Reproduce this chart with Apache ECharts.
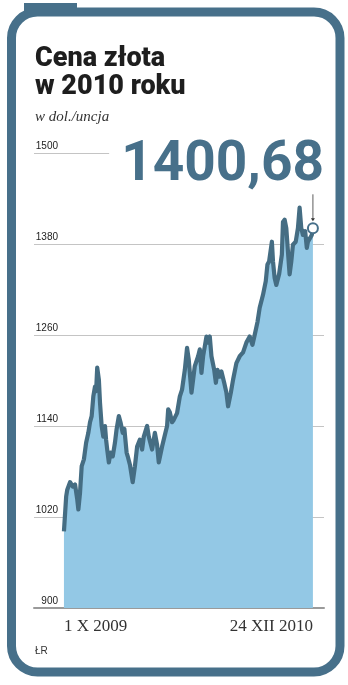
<!DOCTYPE html>
<html>
<head>
<meta charset="utf-8">
<script src="https://cdn.jsdelivr.net/npm/echarts@6/dist/echarts.min.js"></script>
<style>
  html, body { margin: 0; padding: 0; background: #fff; }
  #chart { width: 348px; height: 685px; }
</style>
</head>
<body>
<div id="chart"></div>
<script>
// dni od 1 X 2009
var days = [0, 4, 6, 11, 16, 20, 24, 26, 29, 32, 36, 40, 44, 47, 50, 53, 56, 58, 60, 63,
  65, 68, 71, 74, 76, 78, 81, 84, 88, 92, 95, 99, 102, 106, 109, 113, 115, 119, 124, 128,
  132, 137, 141, 144, 150, 153, 159, 164, 168, 171, 177, 182, 186, 188, 191, 195, 198, 204, 209, 213,
  218, 222, 225, 230, 236, 242, 245, 248, 251, 257, 260, 263, 266, 271, 274, 277, 281, 284, 289, 293,
  296, 301, 305, 311, 317, 323, 329, 335, 340, 344, 349, 353, 359, 364, 367, 370, 375, 377, 380, 383,
  388, 393, 395, 398, 401, 404, 407, 410, 413, 418, 422, 425, 428, 431, 435, 438, 440, 444, 447, 449];
var prices = [1001, 1047, 1056, 1066, 1060, 1063, 1043, 1030, 1052, 1087, 1096, 1118, 1131, 1145, 1153, 1179, 1192, 1186, 1217, 1201,
  1171, 1140, 1126, 1140, 1122, 1109, 1092, 1105, 1100, 1118, 1136, 1153, 1145, 1131, 1136, 1105, 1100, 1089, 1066, 1087,
  1113, 1122, 1109, 1126, 1140, 1126, 1109, 1131, 1115, 1092, 1113, 1128, 1140, 1162, 1158, 1145, 1148, 1157, 1179, 1188,
  1214, 1243, 1228, 1184, 1219, 1232, 1241, 1210, 1232, 1258, 1250, 1258, 1232, 1214, 1197, 1214, 1205, 1212, 1197, 1184,
  1166, 1184, 1201, 1223, 1232, 1237, 1250, 1258, 1247, 1260, 1277, 1296, 1313, 1331, 1353, 1357, 1383, 1357, 1335, 1326,
  1340, 1366, 1409, 1412, 1401, 1370, 1340, 1357, 1379, 1383, 1401, 1428, 1401, 1392, 1397, 1375, 1383, 1388, 1392, 1400.68];
var labelDays = [0, 449];
var dateLabels = ['1 X 2009', '24 XII 2010'];
var yTicks = [900, 1020, 1140, 1260, 1380, 1500];
var lastValue = '1400,68';

var frameColor = '#47708a';
var chart = echarts.init(document.getElementById('chart'), null, { renderer: 'canvas' });

var seriesData = days.map(function (d, i) { return [d, prices[i]]; });

var option = {
  animation: false,
  backgroundColor: '#fff',
  grid: { left: 34, right: 24, top: 153, bottom: 77, containLabel: false },
  xAxis: {
    type: 'value',
    min: -54,
    max: 469,
    axisLine: { show: true, lineStyle: { color: '#9a9a9a', width: 2 } },
    axisTick: { show: false },
    splitLine: { show: false },
    axisLabel: {
      customValues: labelDays,
      alignMinLabel: 'left',
      alignMaxLabel: 'right',
      margin: 10,
      fontFamily: 'Liberation Serif',
      fontSize: 17,
      color: '#333',
      formatter: function (v) {
        var i = labelDays.indexOf(v);
        return i >= 0 ? dateLabels[i] : '';
      }
    }
  },
  yAxis: {
    type: 'value',
    min: yTicks[0],
    max: yTicks[yTicks.length - 1],
    interval: 120,
    axisLine: { show: false },
    axisTick: { show: false },
    splitLine: { lineStyle: { color: '#c4c4c4', width: 1 } },
    axisLabel: {
      inside: true,
      align: 'right',
      verticalAlign: 'bottom',
      margin: 24,
      padding: [0, 0, 2, 0],
      fontFamily: 'Liberation Sans',
      fontSize: 10,
      color: '#222',
      formatter: function (v) { return String(v); }
    }
  },
  series: [{
    type: 'line',
    data: seriesData,
    showSymbol: false,
    lineStyle: { color: '#456d83', width: 4.2, join: 'round' },
    areaStyle: { color: '#93c8e5', opacity: 1 },
    z: 3,
    markPoint: {
      symbol: 'circle',
      symbolSize: 10,
      itemStyle: { color: '#fff', borderColor: frameColor, borderWidth: 2 },
      label: { show: false },
      data: [{ coord: [days[days.length - 1], prices[prices.length - 1]] }]
    }
  }],
  graphic: [
    { id: 'frame', type: 'rect', z: 20, silent: true,
      shape: { x: 11.5, y: 12, width: 328.5, height: 660, r: 26 },
      style: { fill: null, stroke: frameColor, lineWidth: 9 } },
    { id: 'tab', type: 'rect', z: 20, silent: true,
      shape: { x: 24, y: 3, width: 53, height: 9 },
      style: { fill: frameColor } },
    { id: 'title', type: 'text', z: 20, left: 35, top: 45,
      style: { text: 'Cena złota\nw 2010 roku', fontFamily: 'Roboto', fontWeight: 900,
        fontSize: 27, lineHeight: 28, fill: '#1e1e1e' } },
    { id: 'unit', type: 'text', z: 20, left: 35, top: 110,
      style: { text: 'w dol./uncja', fontFamily: 'Liberation Serif', fontStyle: 'italic',
        fontSize: 15, fill: '#333' } },
    { id: 'big', type: 'text', z: 20,
      style: { x: 324, y: 166, text: lastValue, align: 'right', verticalAlign: 'middle',
        fontFamily: 'Roboto', fontWeight: 'bold', fontSize: 55, fill: frameColor,
        backgroundColor: '#fff', padding: [0, 0, 0, 12] } },
    { id: 'src', type: 'text', z: 20, left: 35, top: 646,
      style: { text: 'ŁR', fontFamily: 'Liberation Sans', fontSize: 10, fill: '#333' } }
  ]
};

chart.setOption(option);

// strzałka do ostatniej wartości
var p = chart.convertToPixel({ gridIndex: 0 }, [days[days.length - 1], prices[prices.length - 1]]);
chart.setOption({
  graphic: [
    { id: 'arrowLine', type: 'line', z: 20, silent: true,
      shape: { x1: p[0], y1: p[1] - 34, x2: p[0], y2: p[1] - 9 },
      style: { stroke: '#333', lineWidth: 0.8 } },
    { id: 'arrowHead', type: 'polygon', z: 20, silent: true,
      shape: { points: [[p[0] - 2, p[1] - 10], [p[0] + 2, p[1] - 10], [p[0], p[1] - 7]] },
      style: { fill: '#333' } }
  ]
});
</script>
</body>
</html>
